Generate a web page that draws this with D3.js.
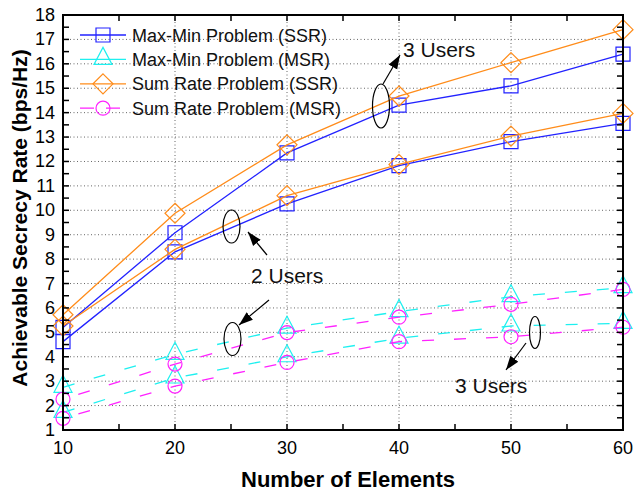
<!DOCTYPE html>
<html>
<head>
<meta charset="utf-8">
<script src="https://cdn.jsdelivr.net/npm/d3@7"></script>
<style>
  body { margin: 0; background: #fff; }
  svg { display: block; font-family: Arial, "Liberation Sans", sans-serif; }
</style>
</head>
<body>
<svg id="svg" width="634" height="491"></svg>
<script>
// x values (number of elements)
var elements = [10, 20, 30, 40, 50, 60];

// SSR curves (solid)
var maxMinSSR3 = [5.2, 9.08, 12.35, 14.31, 15.1, 16.4];
var maxMinSSR2 = [4.62, 8.3, 10.26, 11.83, 12.81, 13.56];
var sumRateSSR3 = [5.72, 9.88, 12.68, 14.68, 16.05, 17.4];
var sumRateSSR2 = [5.26, 8.4, 10.6, 11.88, 13.04, 13.97];

// MSR curves (dashed)
var maxMinMSR2 = [2.75, 4.1, 5.17, 5.85, 6.46, 6.83];
var maxMinMSR3 = [1.72, 3.13, 4.0, 4.76, 5.26, 5.37];
var sumRateMSR2 = [2.26, 3.7, 4.99, 5.62, 6.15, 6.76];
var sumRateMSR3 = [1.48, 2.8, 3.77, 4.62, 4.82, 5.21];

var xTicks = [10, 20, 30, 40, 50, 60];
var yTicks = d3.range(1, 19);

var legendLabels = ['Max-Min Problem (SSR)', 'Max-Min Problem (MSR)',
                    'Sum Rate Problem (SSR)', 'Sum Rate Problem (MSR)'];

var BLUE = '#2222ff', CYAN = '#1ef0f0', ORANGE = '#ff8c1a', MAGENTA = '#ff22ff';

var plotL = 63, plotR = 623, plotT = 15, plotB = 430;

var svg = d3.select('svg');

var x = d3.scaleLinear().domain([10, 60]).range([plotL, plotR]);
var y = d3.scaleLinear().domain([1, 18]).range([plotB, plotT]);

// grid
var grid = svg.append('g');
grid.selectAll('line.gy')
    .data(yTicks.filter(function(d){ return d > 1 && d < 18; }))
    .enter().append('line')
    .attr('x1', plotL).attr('x2', plotR)
    .attr('y1', function(d){ return y(d); }).attr('y2', function(d){ return y(d); })
    .attr('stroke', '#666').attr('stroke-width', 1).attr('stroke-dasharray', '1,2.5');
grid.selectAll('line.gx')
    .data(xTicks.filter(function(d){ return d > 10 && d < 60; }))
    .enter().append('line')
    .attr('y1', plotT).attr('y2', plotB)
    .attr('x1', function(d){ return x(d); }).attr('x2', function(d){ return x(d); })
    .attr('stroke', '#666').attr('stroke-width', 1).attr('stroke-dasharray', '1,2.5');

// marker shapes
function markerPath(type) {
  if (type == 'square') return 'M-7,-7H7V7H-7Z';
  if (type == 'diamond') return 'M0,-10L10,0L0,10L-10,0Z';
  if (type == 'triangle') return 'M0,-12L9,5H-9Z';
  return 'M7,0A7,7 0 1,1 -7,0A7,7 0 1,1 7,0Z';
}

var series = [
  {vals: maxMinSSR3, color: BLUE, marker: 'square', dash: null},
  {vals: maxMinSSR2, color: BLUE, marker: 'square', dash: null},
  {vals: sumRateSSR3, color: ORANGE, marker: 'diamond', dash: null},
  {vals: sumRateSSR2, color: ORANGE, marker: 'diamond', dash: null},
  {vals: maxMinMSR2, color: CYAN, marker: 'triangle', dash: '12,20'},
  {vals: maxMinMSR3, color: CYAN, marker: 'triangle', dash: '12,20'},
  {vals: sumRateMSR2, color: MAGENTA, marker: 'circle', dash: '12,20', off: 16},
  {vals: sumRateMSR3, color: MAGENTA, marker: 'circle', dash: '12,20', off: 16}
];

var line = d3.line()
    .x(function(d, i){ return x(elements[i]); })
    .y(function(d){ return y(d); });

series.forEach(function(s){
  svg.append('path')
      .attr('d', line(s.vals))
      .attr('fill', 'none')
      .attr('stroke', s.color)
      .attr('stroke-width', 1.3)
      .attr('stroke-dasharray', s.dash)
      .attr('stroke-dashoffset', s.off || 0);
  svg.selectAll(null)
      .data(s.vals)
      .enter().append('path')
      .attr('d', markerPath(s.marker))
      .attr('transform', function(d, i){ return 'translate(' + x(elements[i]) + ',' + y(d) + ')'; })
      .attr('fill', 'none')
      .attr('stroke', s.color)
      .attr('stroke-width', 1.2);
});

// axes frame with inward ticks
var axisG = svg.append('g');
axisG.append('rect')
    .attr('x', plotL).attr('y', plotT)
    .attr('width', plotR - plotL).attr('height', plotB - plotT)
    .attr('fill', 'none').attr('stroke', '#000').attr('stroke-width', 2);

var xMinor = d3.range(10, 60.1, 5);
var yMinor = d3.range(1, 18.01, 0.5);

xMinor.forEach(function(v){
  axisG.append('line').attr('x1', x(v)).attr('x2', x(v))
      .attr('y1', plotB).attr('y2', plotB - 6).attr('stroke', '#000').attr('stroke-width', 1.5);
  axisG.append('line').attr('x1', x(v)).attr('x2', x(v))
      .attr('y1', plotT).attr('y2', plotT + 6).attr('stroke', '#000').attr('stroke-width', 1.5);
});
yMinor.forEach(function(v){
  axisG.append('line').attr('y1', y(v)).attr('y2', y(v))
      .attr('x1', plotL).attr('x2', plotL + 6).attr('stroke', '#000').attr('stroke-width', 1.5);
  axisG.append('line').attr('y1', y(v)).attr('y2', y(v))
      .attr('x1', plotR).attr('x2', plotR - 6).attr('stroke', '#000').attr('stroke-width', 1.5);
});

// tick labels
axisG.selectAll('text.xt')
    .data(xTicks).enter().append('text')
    .attr('x', function(d){ return x(d); })
    .attr('y', plotB + 24)
    .attr('text-anchor', 'middle')
    .attr('font-size', 18)
    .text(function(d){ return d; });
axisG.selectAll('text.yt')
    .data(yTicks).enter().append('text')
    .attr('x', plotL - 8)
    .attr('y', function(d){ return y(d) + 6; })
    .attr('text-anchor', 'end')
    .attr('font-size', 18)
    .text(function(d){ return d; });

// axis titles
svg.append('text')
    .attr('x', 348).attr('y', 487)
    .attr('text-anchor', 'middle')
    .attr('font-size', 22).attr('font-weight', 'bold')
    .text('Number of Elements');
svg.append('text')
    .attr('transform', 'translate(27,218) rotate(-90)')
    .attr('text-anchor', 'middle')
    .attr('font-size', 21).attr('font-weight', 'bold')
    .text('Achievable Secrecy Rate (bps/Hz)');

// legend
var legendStyles = [
  {color: BLUE, marker: 'square', dash: null},
  {color: CYAN, marker: 'triangle', dash: null},
  {color: ORANGE, marker: 'diamond', dash: null},
  {color: MAGENTA, marker: 'circle', dash: '14,12'}
];
legendLabels.forEach(function(lab, i){
  var ly = 35 + i * 24.4;
  var st = legendStyles[i];
  svg.append('line').attr('x1', 80).attr('x2', 126).attr('y1', ly).attr('y2', ly)
      .attr('stroke', st.color).attr('stroke-width', 1.3).attr('stroke-dasharray', st.dash);
  svg.append('path').attr('d', markerPath(st.marker))
      .attr('transform', 'translate(103,' + ly + ')')
      .attr('fill', 'none').attr('stroke', st.color).attr('stroke-width', 1.2);
  svg.append('text').attr('x', 132).attr('y', ly + 6.5)
      .attr('font-size', 18).attr('fill', '#111')
      .text(lab);
});

// annotations
var defs = svg.append('defs');
defs.append('marker').attr('id', 'arr')
    .attr('viewBox', '0 0 10 10').attr('refX', 10).attr('refY', 5)
    .attr('markerWidth', 14).attr('markerHeight', 14)
    .attr('markerUnits', 'userSpaceOnUse')
    .attr('orient', 'auto')
    .append('path').attr('d', 'M0,1.5L10,5L0,8.5Z').attr('fill', '#000');

function ellipse(cx, cy, rx, ry) {
  svg.append('ellipse').attr('cx', cx).attr('cy', cy).attr('rx', rx).attr('ry', ry)
      .attr('fill', 'none').attr('stroke', '#000').attr('stroke-width', 1.2);
}
function arrow(x1, y1, x2, y2) {
  svg.append('line').attr('x1', x1).attr('y1', y1).attr('x2', x2).attr('y2', y2)
      .attr('stroke', '#000').attr('stroke-width', 1.2).attr('marker-end', 'url(#arr)');
}
function note(tx, ty, t) {
  svg.append('text').attr('x', tx).attr('y', ty).attr('font-size', 21).attr('fill', '#111').text(t);
}

ellipse(381, 106, 8.5, 22);
arrow(383, 84, 400, 55);
note(403, 57, '3 Users');

ellipse(231.5, 226.5, 8.5, 16.5);
arrow(267, 255, 248, 232);
note(251, 283, '2 Users');

ellipse(232.5, 339, 8.5, 16.5);
arrow(269, 300, 239, 325);

ellipse(535, 332.5, 5.5, 16);
arrow(526, 343, 506, 370);
note(455, 393, '3 Users');
</script>
</body>
</html>
